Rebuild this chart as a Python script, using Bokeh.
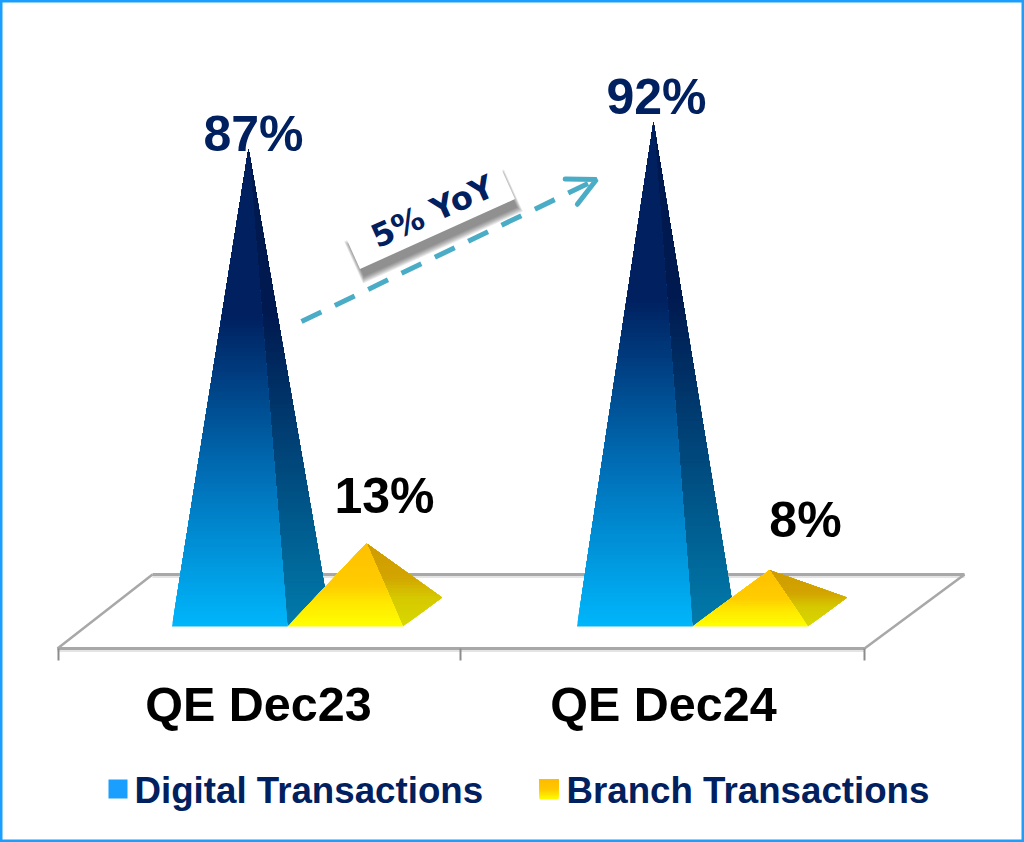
import math
from bokeh.plotting import figure
from bokeh.models import Range1d, Arrow, OpenHead
from bokeh.core.properties import value
from bokeh.embed import file_html
from bokeh.resources import INLINE

# ---- data
categories = ["QE Dec23", "QE Dec24"]
digital = [87, 92]
branch = [13, 8]
digital_labels = ["87%", "92%"]
branch_labels = ["13%", "8%"]
series_names = ["Digital Transactions", "Branch Transactions"]
annotation = "5% YoY"

NAVY = "#002060"
BORDER = "#1a9fff"
FONT = "Liberation Sans"


# picture pixel -> data
def X(px):
    return (px - 288.0) / 405.0


def Y(py):
    return (612.3 - py) / 5.33


def TY(py, size):
    # baseline pixel of a text of this size -> data (the svg text sits low)
    return Y(py - 0.4 * size)


p = figure(width=1024, height=842, output_backend="svg", toolbar_location=None,
           x_range=Range1d(X(1), X(1025)), y_range=Range1d(Y(842), Y(0)),
           min_border=0, x_axis_type=None, y_axis_type=None,
           background_fill_color="white", border_fill_color="white")
p.grid.visible = False
p.outline_line_color = BORDER
p.outline_line_width = 4


def hexrgb(c):
    return tuple(int(c[i:i + 2], 16) for i in (1, 3, 5))


def ramp(stops, t):
    t = max(0.0, min(1.0, t))
    for (t0, c0), (t1, c1) in zip(stops, stops[1:]):
        if t <= t1:
            f = (t - t0) / (t1 - t0)
            a, b = hexrgb(c0), hexrgb(c1)
            return "#%02x%02x%02x" % tuple(round(a[i] + (b[i] - a[i]) * f) for i in range(3))
    return stops[-1][1]


def clip_above(poly, y0):
    out = []
    for i in range(len(poly)):
        a, b = poly[i], poly[(i + 1) % len(poly)]
        ina, inb = a[1] >= y0, b[1] >= y0
        if ina:
            out.append(a)
        if ina != inb:
            f = (y0 - a[1]) / (b[1] - a[1])
            out.append((a[0] + (b[0] - a[0]) * f, y0))
    return out


def face(poly, base, top, stops, bands=60):
    """Gradient-filled convex face: painted bottom-up as shrinking overlapping layers."""
    xs, ys, cs = [], [], []
    lo, hi = min(q[1] for q in poly), max(q[1] for q in poly)
    for k in range(bands):
        y0 = lo + (hi - lo) * k / bands
        s = clip_above(poly, y0)
        if len(s) < 3:
            continue
        xs.append([q[0] for q in s])
        ys.append([q[1] for q in s])
        cs.append(ramp(stops, (y0 + (hi - lo) / bands / 2 - base) / (top - base)))
    p.patches(xs, ys, fill_color=cs, line_color=None)


BLUE_FRONT = [(0, "#00b6fb"), (0.31, "#0070b8"), (0.65, "#002060"), (1, "#002060")]
BLUE_SIDE = [(0, "#007cac"), (0.31, "#004c80"), (0.65, "#001a50"), (1, "#001a50")]
GOLD_FRONT = [(0, "#ffff00"), (0.3, "#ffe600"), (0.5, "#ffcc00"), (1, "#ffc000")]
GOLD_SIDE = [(0, "#d8d800"), (0.35, "#d6c800"), (0.6, "#d2a400"), (1, "#cf9c00")]

# ---- floor of the 3-D plot
for off, col, w in [(1.5, "#e4e4e4", 4), (0, "#a8a8a8", 3)]:
    p.line([X(153), X(965)], [Y(574 + off)] * 2, line_color=col, line_width=w)
    p.line([X(58), X(865)], [Y(648 + off)] * 2, line_color=col, line_width=w)
for a, b in [((58, 648), (153, 574)), ((865, 648), (965, 574))]:
    p.line([X(a[0]), X(b[0])], [Y(a[1]), Y(b[1])], line_color="#a8a8a8", line_width=2.5)
p.segment([X(t) for t in (59, 461, 865)], [Y(648)] * 3,
          [X(t) for t in (59, 461, 865)], [Y(660)] * 3, line_color="#8c8c8c", line_width=2)

# ---- pyramids
BASE = Y(626)
BACK = Y(597)
bw = 115.5 / 405
depth = 39 / 405
for i in range(len(categories)):
    # digital
    l, r = i - bw, i
    ax, ay = l + 76.5 / 405, digital[i]
    face([(ax, ay), (r, BASE), (r + depth, BACK)], BASE, ay, BLUE_SIDE, 120)
    face([(ax, ay), (l, BASE), (r, BASE)], BASE, ay, BLUE_FRONT, 120)
    # branch
    l, r = i, i + bw
    ax, ay = l + (79 - 2 * i) / 405, branch[i]
    face([(ax, ay), (r, BASE), (r + depth, BACK)], BASE, ay, GOLD_SIDE, 30)
    face([(ax, ay), (l, BASE), (r, BASE)], BASE, ay, GOLD_FRONT, 30)

# ---- value labels
p.text([X(254), X(657)], [TY(153, 50), TY(116, 50)], text=digital_labels, text_color=NAVY,
       text_font=value(FONT), text_font_style="bold", text_font_size="50px",
       text_align="center", text_baseline="alphabetic")
p.text([X(385), X(806)], [TY(515.5, 50), TY(539.5, 50)], text=branch_labels, text_color="#000000",
       text_font=value(FONT), text_font_style="bold", text_font_size="50px",
       text_align="center", text_baseline="alphabetic")

# ---- category labels
p.text([X(259), X(664)], [TY(723, 48.5)] * 2, text=categories, text_color="#000000",
       text_font=value(FONT), text_font_style="bold", text_font_size="48.5px",
       text_align="center", text_baseline="alphabetic")

# ---- YoY arrow
p.add_layout(Arrow(x_start=X(302), y_start=Y(321), x_end=X(597), y_end=Y(179),
                   line_color="#4bacc6", line_width=5, line_dash="22 15",
                   end=OpenHead(size=28, line_color="#4bacc6", line_width=5,
                                line_cap="round")))

# ---- YoY tag
ang = math.radians(24.3)
ux, uy = math.cos(ang), -math.sin(ang)
vx, vy = math.sin(ang), math.cos(ang)


def tag(cx, cy, a, b):
    pts = [(-a, -b), (-a, b), (a, b), (a, -b)]
    return ([X(cx + s * ux + t * vx) for s, t in pts],
            [Y(cy + s * uy + t * vy) for s, t in pts])


for g in (6, 5, 4, 3, 2, 1, 0):
    sx, sy = tag(434, 226, 84 + 0.6 * g, 17 + g)
    p.patch(sx, sy, fill_color="#303030", fill_alpha=0.10, line_color=None)
sx, sy = tag(431, 218, 85, 17)
p.patch(sx, sy, fill_color="white", line_color=None)
p.text([X(433)], [Y(211)], text=[annotation], angle=ang, text_color=NAVY,
       text_font=value("DejaVu Sans"), text_font_style="bold", text_font_size="32px",
       text_align="center", text_baseline="middle")

# ---- legend
p.quad(left=[X(109)], right=[X(128)], top=[Y(779)], bottom=[Y(798)],
       fill_color=BORDER, line_color=None)
face([(X(540), Y(779)), (X(559), Y(779)), (X(559), Y(799)), (X(540), Y(799))],
     Y(799), Y(779), [(0, "#ffff00"), (0.5, "#ffc800"), (1, "#ffbb00")], 20)
p.text([X(135), X(567)], [TY(805, 36.7)] * 2, text=series_names, text_color=NAVY,
       text_font=value(FONT), text_font_style="bold", text_font_size="36.7px",
       text_align="left", text_baseline="alphabetic")

open("out.html", "w").write(file_html(p, INLINE))
